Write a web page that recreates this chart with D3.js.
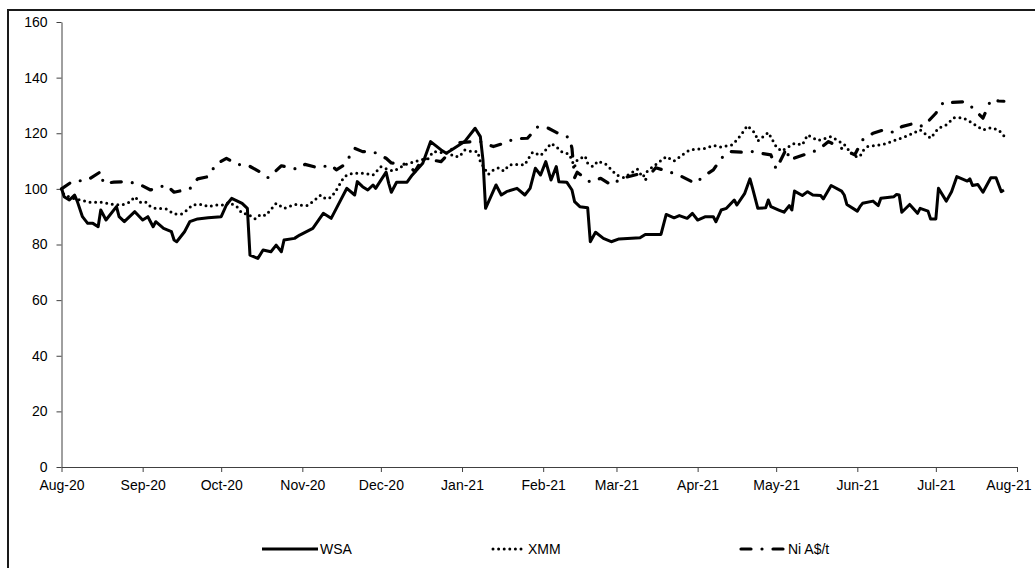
<!DOCTYPE html>
<html><head><meta charset="utf-8">
<script src="https://cdn.jsdelivr.net/npm/d3@7"></script>
<style>
html,body{margin:0;padding:0;background:#fff;}
svg{display:block;font-family:"Liberation Sans",Arial,sans-serif;}
</style></head>
<body><svg id="chart" width="1035" height="568"></svg>
<script>
const monthTicks = ["2020-08-01","2020-09-01","2020-10-01","2020-11-01","2020-12-01","2021-01-01","2021-02-01","2021-03-01","2021-04-01","2021-05-01","2021-06-01","2021-07-01","2021-08-01"];
const yTicks = [0,20,40,60,80,100,120,140,160];
const seriesNames = ["WSA","XMM","Ni A$/t"];

const wsaDates = ["2020-08-01","2020-08-02","2020-08-04","2020-08-06","2020-08-07","2020-08-09","2020-08-11","2020-08-13","2020-08-15","2020-08-16","2020-08-18","2020-08-22","2020-08-23","2020-08-25","2020-08-29",
"2020-09-01","2020-09-03","2020-09-05","2020-09-06","2020-09-09","2020-09-12","2020-09-13","2020-09-14","2020-09-17","2020-09-19","2020-09-22","2020-09-26",
"2020-10-01","2020-10-03","2020-10-05","2020-10-09","2020-10-11","2020-10-12","2020-10-15","2020-10-17","2020-10-20","2020-10-22","2020-10-24","2020-10-25","2020-10-29","2020-10-31",
"2020-11-05","2020-11-09","2020-11-12","2020-11-14","2020-11-18","2020-11-21","2020-11-22","2020-11-24","2020-11-26","2020-11-28","2020-11-29",
"2020-12-03","2020-12-04","2020-12-05","2020-12-07","2020-12-11","2020-12-13","2020-12-17","2020-12-20","2020-12-24","2020-12-26","2020-12-29",
"2021-01-02","2021-01-06","2021-01-08","2021-01-09","2021-01-10","2021-01-14","2021-01-16","2021-01-18","2021-01-22","2021-01-25","2021-01-27","2021-01-29","2021-01-31",
"2021-02-02","2021-02-04","2021-02-06","2021-02-07","2021-02-10","2021-02-12","2021-02-13","2021-02-15","2021-02-18","2021-02-19","2021-02-21","2021-02-24","2021-02-27",
"2021-03-02","2021-03-10","2021-03-12","2021-03-18","2021-03-20","2021-03-23","2021-03-25","2021-03-28","2021-03-30",
"2021-04-01","2021-04-04","2021-04-07","2021-04-08","2021-04-10","2021-04-12","2021-04-15","2021-04-16","2021-04-19","2021-04-21","2021-04-22","2021-04-24","2021-04-27","2021-04-28","2021-04-29",
"2021-05-02","2021-05-04","2021-05-06","2021-05-07","2021-05-08","2021-05-11","2021-05-13","2021-05-15","2021-05-18","2021-05-19","2021-05-22","2021-05-26","2021-05-27","2021-05-28",
"2021-06-01","2021-06-02","2021-06-03","2021-06-07","2021-06-09","2021-06-10","2021-06-15","2021-06-16","2021-06-17","2021-06-18","2021-06-21","2021-06-24","2021-06-25","2021-06-28","2021-06-29",
"2021-07-01","2021-07-02","2021-07-05","2021-07-07","2021-07-09","2021-07-13","2021-07-14","2021-07-15","2021-07-17","2021-07-19","2021-07-22","2021-07-24","2021-07-26","2021-07-27"];
const wsaValues = [100.2,97.2,96.0,97.8,95.6,90.0,87.6,87.6,86.4,92.4,88.8,93.6,90.0,88.2,91.8,
88.8,90.0,86.4,88.2,85.8,84.6,81.6,81.0,84.6,88.2,89.2,89.6,
90.0,94.2,96.6,94.8,93.0,76.2,75.0,78.0,77.4,79.8,77.4,81.6,82.2,83.4,
85.8,91.2,89.4,93.0,100.2,97.8,102.6,100.8,99.6,101.4,100.2,
106.0,102.0,98.8,102.4,102.4,105.0,109.2,117.0,114.0,112.8,114.6,
117.0,121.8,118.8,110.4,93.0,101.4,97.8,99.0,100.2,97.8,100.2,107.4,105.0,
109.8,103.2,108.0,102.6,102.4,99.6,95.4,93.6,93.2,81.0,84.4,82.2,81.0,
82.0,82.4,83.6,83.6,90.8,89.6,90.4,89.4,91.2,
88.8,90.0,90.0,88.2,92.4,93.0,96.0,94.2,98.4,103.6,100.2,93.0,93.2,96.0,93.6,
92.4,91.6,94.0,92.4,99.2,97.6,99.0,97.8,97.6,96.4,101.2,99.2,97.8,94.4,
92.0,93.6,94.8,95.6,94.0,96.6,97.2,98.0,97.8,91.6,94.4,91.2,93.0,92.0,89.2,
89.2,100.2,95.6,99.0,104.4,102.8,103.6,101.2,101.6,98.8,104.0,104.0,99.0,99.6];

const xmmDates = ["2020-08-01","2020-08-02","2020-08-06","2020-08-12","2020-08-16","2020-08-21","2020-08-24","2020-08-27","2020-08-29","2020-08-31",
"2020-09-02","2020-09-04","2020-09-06","2020-09-10","2020-09-13","2020-09-16","2020-09-18","2020-09-20","2020-09-24","2020-09-26","2020-09-29",
"2020-10-02","2020-10-04","2020-10-07","2020-10-09","2020-10-11","2020-10-14","2020-10-16","2020-10-18","2020-10-20","2020-10-22","2020-10-25","2020-10-29","2020-10-31",
"2020-11-03","2020-11-05","2020-11-08","2020-11-10","2020-11-12","2020-11-14","2020-11-17","2020-11-20","2020-11-25","2020-11-28",
"2020-12-01","2020-12-04","2020-12-06","2020-12-10","2020-12-16","2020-12-19","2020-12-21","2020-12-27","2020-12-29","2020-12-31",
"2021-01-02","2021-01-05","2021-01-07","2021-01-08","2021-01-11","2021-01-13","2021-01-15","2021-01-17","2021-01-19","2021-01-22","2021-01-25","2021-01-26","2021-01-28","2021-01-31",
"2021-02-02","2021-02-04","2021-02-06","2021-02-08","2021-02-11","2021-02-13","2021-02-14","2021-02-17","2021-02-18","2021-02-20","2021-02-22","2021-02-25","2021-02-27",
"2021-03-01","2021-03-04","2021-03-06","2021-03-09","2021-03-11","2021-03-13","2021-03-15","2021-03-20","2021-03-23","2021-03-27","2021-03-29",
"2021-04-04","2021-04-07","2021-04-10","2021-04-14","2021-04-16","2021-04-18","2021-04-20","2021-04-23","2021-04-24","2021-04-28",
"2021-05-01","2021-05-03","2021-05-08","2021-05-11","2021-05-13","2021-05-17","2021-05-22","2021-05-27","2021-05-29","2021-05-31",
"2021-06-02","2021-06-03","2021-06-05","2021-06-11","2021-06-17","2021-06-20","2021-06-25","2021-06-29",
"2021-07-02","2021-07-05","2021-07-08","2021-07-11","2021-07-13","2021-07-17","2021-07-19","2021-07-22","2021-07-25","2021-07-27"];
const xmmValues = [100,97.8,96.4,95.2,95.2,94.4,94.2,95.2,97.2,95.2,
95.4,93.6,93,92.8,91,91,92.4,94.2,94.4,93.6,94.2,
94.2,95.2,93.6,91.2,91,89.2,90.8,90.4,92.6,94.8,93,94.4,94.2,
94,95.4,97.8,96.4,96.9,99.6,104.4,105.6,105.6,105,
108,106.8,106.4,108.6,110.4,110.8,113.4,112.8,111.6,111.6,
114,113.4,113.4,109.8,105.2,106.8,107.6,106.4,108.6,108.8,108.6,110.4,113.2,112,
114,116.4,115.2,113.4,112.4,108,110.4,111.8,109.2,108,110,108.8,107,
105,104,105.4,107.1,104.2,106.6,108,111.6,110,112.8,114,
114.6,115.6,115,115.8,117.6,120,122.7,120,117.2,120.3,
115.2,113.6,116.4,115.8,119.4,117.4,118.8,116,113.6,111.6,
111.6,113.6,115.2,116,118,119,121.2,118.2,
121.8,123,125.6,125.6,124.8,122.4,121.2,122,121.2,119.1];

const niDates = ["2020-08-01","2020-08-05","2020-08-11","2020-08-16","2020-08-17","2020-08-21","2020-08-25","2020-08-30",
"2020-09-04","2020-09-10","2020-09-13","2020-09-19","2020-09-22","2020-09-26","2020-09-29",
"2020-10-03","2020-10-07","2020-10-11","2020-10-16","2020-10-19","2020-10-24","2020-10-30",
"2020-11-02","2020-11-07","2020-11-12","2020-11-14","2020-11-17","2020-11-21","2020-11-24","2020-11-28",
"2020-12-03","2020-12-05","2020-12-11","2020-12-14","2020-12-17","2020-12-24","2020-12-27","2020-12-29","2020-12-31",
"2021-01-06","2021-01-08","2021-01-13","2021-01-17","2021-01-21","2021-01-26","2021-01-30",
"2021-02-03","2021-02-06","2021-02-11","2021-02-12","2021-02-13","2021-02-14","2021-02-19","2021-02-23","2021-02-27",
"2021-03-03","2021-03-09","2021-03-12","2021-03-16","2021-03-21","2021-03-26","2021-03-31",
"2021-04-04","2021-04-07","2021-04-10","2021-04-13","2021-04-18","2021-04-22","2021-04-25","2021-04-29",
"2021-05-01","2021-05-05","2021-05-06","2021-05-17","2021-05-21","2021-05-31",
"2021-06-03","2021-06-07","2021-06-11","2021-06-15","2021-06-18","2021-06-23","2021-06-26","2021-06-28",
"2021-07-01","2021-07-04","2021-07-07","2021-07-12","2021-07-15","2021-07-19","2021-07-22","2021-07-25","2021-07-27"];
const niValues = [100,102.6,103.2,106.2,102,102.4,102.6,102,
99.6,101.4,98.8,100,103.6,104.4,108.8,
111,108.8,108.6,106,104,108.3,107.1,
108.8,107.6,108.6,106.8,108.6,114.6,113.4,113.4,
111,109.3,108.8,106.2,111,109.8,112.8,115.5,116.6,
117,117,115.2,116.4,118,118.2,122.4,
121.8,120.3,118.4,114.6,104,106,102.4,103.8,101.4,
103.8,105.2,103.2,107.6,106.2,104.4,102,
105,106.8,111,113.4,113.2,113.4,112.8,112.2,
107.1,114.6,110.4,114,117,112.2,
117.6,120,121.2,120.3,122.4,123.6,122.4,124.2,
127.2,131.3,131.1,131.3,129.2,125.4,132,131.6,131.5];

const parse = d3.timeParse("%Y-%m-%d");
function zip(ds, vs){ const n = Math.min(ds.length, vs.length); const out=[]; for(let i=0;i<n;i++) out.push({date:parse(ds[i]), value:vs[i]}); return out; }

const FONT = "'Liberation Sans', Arial, sans-serif";
const FS = "14px";

const styles = [
  {name: seriesNames[0], data: zip(wsaDates, wsaValues), width: 3, dash: null, cap: "butt"},
  {name: seriesNames[1], data: zip(xmmDates, xmmValues), width: 3, dash: "0 5.6", cap: "round"},
  {name: seriesNames[2], data: zip(niDates, niValues), width: 3.2, dash: "10 11 0 11", cap: "round"}
];

const svg = d3.select("#chart");
svg.append("rect").attr("x",8).attr("y",10).attr("width",1200).attr("height",700)
  .attr("fill","none").attr("stroke","#1a1a1a").attr("stroke-width",2);

const x = d3.scaleTime().domain([parse(monthTicks[0]), parse(monthTicks[monthTicks.length-1])]).range([61.5, 1017]);
const y = d3.scaleLinear().domain([0,160]).range([467, 22]);

const fmt = d3.timeFormat("%b-%y");
const xAxis = svg.append("g").attr("transform","translate(0,467)")
  .call(d3.axisBottom(x).tickValues(monthTicks.map(parse)).tickFormat(fmt).tickSize(5).tickSizeOuter(0).tickPadding(8));
const yAxis = svg.append("g").attr("transform","translate(61.5,0)")
  .call(d3.axisLeft(y).tickValues(yTicks).tickSize(5).tickSizeOuter(0).tickPadding(9));
[xAxis,yAxis].forEach(g=>{
  g.selectAll("path.domain").attr("stroke","#404040").attr("stroke-width",1);
  g.selectAll(".tick line").attr("stroke","#404040");
  g.selectAll("text").attr("fill","#000").style("font-size",FS).style("font-family",FONT);
});
xAxis.selectAll(".tick").filter((d,i,n)=> i === n.length-1).select("text")
  .attr("text-anchor","end").attr("x", 14);

const line = d3.line().x(d=>x(d.date)).y(d=>y(d.value));
styles.forEach(s=>{
  svg.append("path").datum(s.data).attr("d", line)
    .attr("fill","none").attr("stroke","#000").attr("stroke-width", s.width)
    .attr("stroke-linejoin","round").attr("stroke-linecap", s.cap)
    .attr("stroke-dasharray", s.dash);
});

const legendItems = [
  {s: styles[0], x0: 262, x1: 318, tx: 320},
  {s: styles[1], x0: 493, x1: 526, tx: 528},
  {s: styles[2], x0: 741, x1: 786, tx: 788}
];
const ly = 549;
legendItems.forEach(it=>{
  svg.append("line").attr("x1",it.x0).attr("x2",it.x1).attr("y1",ly).attr("y2",ly)
    .attr("stroke","#000").attr("stroke-width",it.s.width)
    .attr("stroke-linecap",it.s.cap).attr("stroke-dasharray",it.s.dash);
  svg.append("text").attr("x",it.tx).attr("y",ly).attr("dy","0.35em")
    .style("font-size",FS).style("font-family",FONT)
    .text(it.s.name);
});
</script></body></html>
